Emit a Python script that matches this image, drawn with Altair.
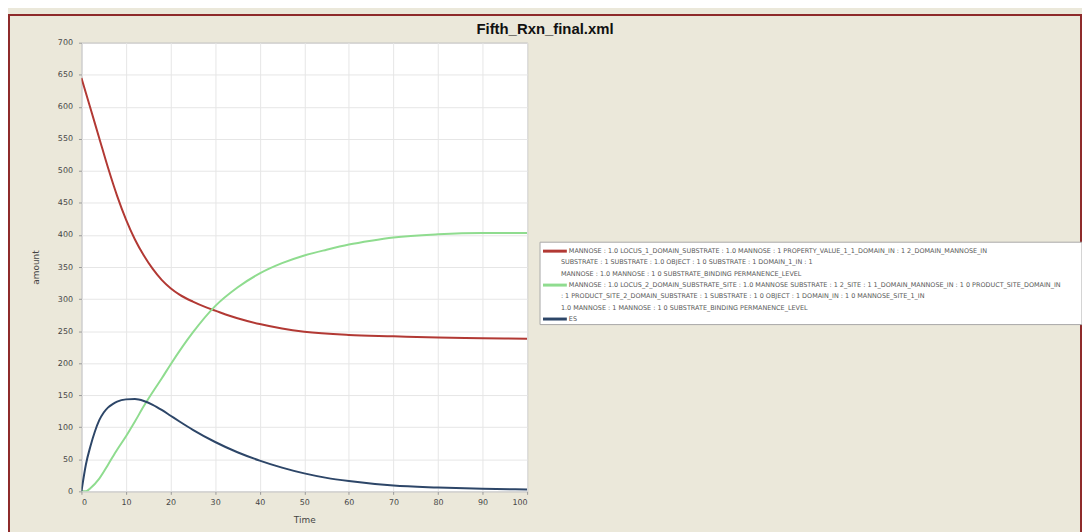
import altair as alt
import pandas as pd

# ---- data ----
time_red = [0, 2, 4, 6, 8, 10, 12, 14, 16, 18, 20, 22, 25, 28, 30, 35, 40, 45, 50, 60, 70, 80, 90, 100]
red_vals = [645, 598, 551, 504, 461, 424, 393, 368, 347, 330, 317, 307, 296, 287, 282, 270, 261, 254, 249, 244, 242, 240, 239, 238]

time_green = [0, 1, 2, 4, 6, 8, 10, 12, 14, 16, 18, 20, 25, 30, 35, 40, 45, 50, 55, 60, 65, 70, 80, 90, 100]
green_vals = [0, 0, 5, 20, 42, 65, 86, 109, 133, 155, 176, 198, 248, 289, 318, 340, 356, 368, 377, 385, 391, 396, 401, 403, 403]

time_blue = [0, 1, 2, 3, 4, 5, 6, 7, 8, 10, 12, 14, 16, 18, 20, 22, 25, 30, 35, 40, 45, 50, 55, 60, 70, 80, 90, 100]
blue_vals = [0, 42, 70, 93, 111, 123, 131, 136, 140, 143.5, 144, 141, 135, 127, 118, 109, 96, 77, 61, 48, 37, 28, 21, 16, 9, 6, 4, 3]

series_names = ["Reaction 1", "Reaction 2", "ES"]
series_colors = ["#b23934", "#8fdc8f", "#2d4668"]

# legend text lines (as shown in the legend box)
legend_lines = [
    "MANNOSE : 1.0 LOCUS_1_DOMAIN_SUBSTRATE : 1.0 MANNOSE : 1 PROPERTY_VALUE_1_1_DOMAIN_IN : 1 2_DOMAIN_MANNOSE_IN",
    "SUBSTRATE : 1 SUBSTRATE : 1.0 OBJECT : 1 0 SUBSTRATE : 1 DOMAIN_1_IN : 1",
    "MANNOSE : 1.0 MANNOSE : 1 0 SUBSTRATE_BINDING PERMANENCE_LEVEL",
    "MANNOSE : 1.0 LOCUS_2_DOMAIN_SUBSTRATE_SITE : 1.0 MANNOSE SUBSTRATE : 1 2_SITE : 1 1_DOMAIN_MANNOSE_IN : 1 0 PRODUCT_SITE_DOMAIN_IN",
    ": 1 PRODUCT_SITE_2_DOMAIN_SUBSTRATE : 1 SUBSTRATE : 1 0 OBJECT : 1 DOMAIN_IN : 1 0 MANNOSE_SITE_1_IN",
    "1.0 MANNOSE : 1 MANNOSE : 1 0 SUBSTRATE_BINDING PERMANENCE_LEVEL",
    "ES",
]
legend_series = ["Reaction 1", "Reaction 1", "Reaction 1", "Reaction 2", "Reaction 2", "Reaction 2", "ES"]
legend_first = [1, 0, 0, 1, 0, 0, 1]

frames = []
for name, ts, vs in zip(series_names, [time_red, time_green, time_blue], [red_vals, green_vals, blue_vals]):
    frames.append(pd.DataFrame({"Time": ts, "amount": vs, "series": name}))
df = pd.concat(frames, ignore_index=True)

leg_df = pd.DataFrame({"text": legend_lines, "series": legend_series,
                       "first": legend_first, "row": list(range(len(legend_lines)))})

x_ticks = list(range(0, 101, 10))
y_ticks = list(range(0, 701, 50))

W, H = 449, 452
PAD_L, PAD_T = 74, 33
CANVAS_W, CANVAS_H = 1082, 524

one = alt.Data(values=[{"k": 1}])
color_scale = alt.Scale(domain=series_names, range=series_colors)

frame = alt.Chart(one).mark_rect(fill="transparent", stroke="#8e2a2a", strokeWidth=2).encode(
    x=alt.value(-PAD_L + 1), x2=alt.value(CANVAS_W - PAD_L - 1),
    y=alt.value(-PAD_T + 5), y2=alt.value(CANVAS_H - PAD_T + 20),
)

legend_box = alt.Chart(one).mark_rect(fill="white", stroke="#a8a8a8", strokeWidth=1).encode(
    x=alt.value(462), x2=alt.value(1008), y=alt.value(201), y2=alt.value(284),
)

legend_text = alt.Chart(leg_df).transform_calculate(
    px="datum.first == 1 ? 491 : 483",
    py="210 + 11.4 * datum.row",
).mark_text(font="DejaVu Sans", fontSize=6.5, color="#5a5a5a", align="left", baseline="middle").encode(
    x=alt.X("px:Q", scale=None), y=alt.Y("py:Q", scale=None), text="text:N",
)

legend_sym = alt.Chart(leg_df).transform_filter("datum.first == 1").transform_calculate(
    py="210 + 11.4 * datum.row",
).mark_rule(strokeWidth=3).encode(
    x=alt.value(465), x2=alt.value(489), y=alt.Y("py:Q", scale=None),
    color=alt.Color("series:N", scale=color_scale, legend=None),
)

title_txt = alt.Chart(one).mark_text(
    text="Fifth_Rxn_final.xml", font="Liberation Sans", fontSize=15, fontWeight="bold",
    color="#111111", align="center", baseline="middle",
).encode(x=alt.value(467), y=alt.value(-14))

lines = alt.Chart(df).mark_line(strokeWidth=2, interpolate="monotone", clip=True).encode(
    x=alt.X("Time:Q", scale=alt.Scale(domain=[0, 100], nice=False),
            axis=alt.Axis(values=x_ticks, title="Time", grid=True)),
    y=alt.Y("amount:Q", scale=alt.Scale(domain=[0, 700], nice=False),
            axis=alt.Axis(values=y_ticks, title="amount", grid=True)),
    color=alt.Color("series:N", scale=color_scale, legend=None),
)

chart = alt.layer(frame, legend_box, title_txt, lines, legend_sym, legend_text).properties(
    width=W, height=H,
    autosize=alt.AutoSizeParams(type="none"),
    padding={"left": PAD_L, "top": PAD_T, "right": CANVAS_W - PAD_L - W, "bottom": CANVAS_H - PAD_T - H},
    background="#ebe8da",
).configure_view(fill="white", stroke="#9a9a9a", strokeWidth=1).configure_axis(
    labelFont="DejaVu Sans", labelFontSize=8, labelColor="#444444",
    titleFont="DejaVu Sans", titleFontSize=9, titleFontWeight="normal", titleColor="#444444",
    gridColor="#e6e6e6", gridWidth=1, domain=False, tickColor="#999999", tickSize=3,
).configure_axisY(titlePadding=17, labelPadding=6).configure_axisX(titlePadding=9, labelPadding=4)

chart.save("out.html", embed_options={"renderer": "svg", "actions": False})
